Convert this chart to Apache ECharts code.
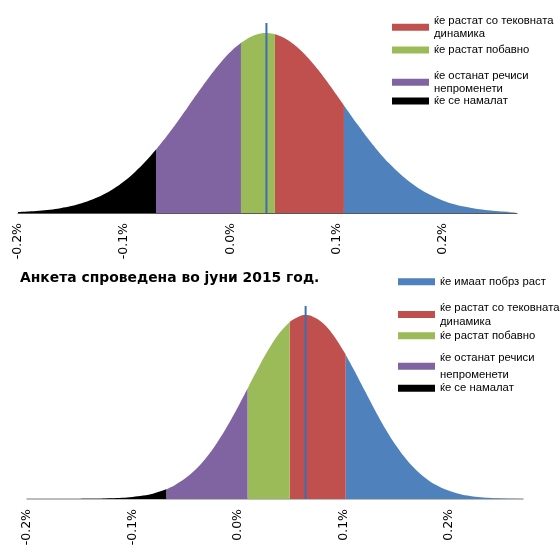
<!DOCTYPE html>
<html>
<head>
<meta charset="utf-8">
<script src="https://cdn.jsdelivr.net/npm/echarts@6/dist/echarts.min.js"></script>
<style>
  html, body { margin: 0; padding: 0; background: #ffffff; }
  #chart { width: 560px; height: 554px; }
</style>
</head>
<body>
<div id="chart"></div>
<script>
// Expectation groups (legend order) and their colours
const groupNames = [
  'ќе имаат побрз раст',
  'ќе растат со тековната\nдинамика',
  'ќе растат побавно',
  'ќе останат речиси\nнепроменети',
  'ќе се намалат'
];
const groupColors = ['#4f81bd', '#c0504d', '#9bbb59', '#8064a2', '#000000'];

// Axis ticks (growth rate, %)
const tickValues = [-0.2, -0.1, 0.0, 0.1, 0.2];
const tickLabels = ['-0.2%', '-0.1%', '0.0%', '0.1%', '0.2%'];

// Upper panel: distribution of expected growth
const xTop = [-0.20, -0.19, -0.18, -0.17, -0.16, -0.15, -0.14, -0.13, -0.12, -0.11,
  -0.10, -0.09, -0.08, -0.07, -0.06, -0.05, -0.04, -0.03, -0.02, -0.01,
  0.00, 0.01, 0.02, 0.03, 0.034, 0.04, 0.042, 0.05, 0.06, 0.07, 0.08, 0.09, 0.10,
  0.107, 0.11, 0.12, 0.13, 0.14, 0.15, 0.16, 0.17, 0.18, 0.19, 0.20,
  0.21, 0.22, 0.23, 0.24, 0.25, 0.26, 0.27];
const yTop = [0.028, 0.044, 0.067, 0.100, 0.147, 0.212, 0.299, 0.414, 0.562, 0.750,
  0.980, 1.257, 1.582, 1.952, 2.363, 2.805, 3.267, 3.732, 4.182, 4.597,
  4.956, 5.240, 5.436, 5.532, 5.540, 5.521, 5.506, 5.405, 5.190, 4.889, 4.517, 4.094, 3.640,
  3.313, 3.174, 2.715, 2.277, 1.874, 1.513, 1.198, 0.931, 0.709, 0.530, 0.388,
  0.279, 0.197, 0.136, 0.092, 0.062, 0.040, 0.026];
const cutsTop = [-0.07, 0.01, 0.042, 0.107];
const meanTop = 0.034;

// Lower panel: survey conducted in June 2015
const xBottom = [-0.20, -0.19, -0.18, -0.17, -0.16, -0.15, -0.14, -0.13, -0.12, -0.11,
  -0.10, -0.09, -0.08, -0.07, -0.068, -0.06, -0.05, -0.04, -0.03, -0.02, -0.01,
  0.00, 0.009, 0.01, 0.02, 0.03, 0.04, 0.049, 0.05, 0.06, 0.064, 0.07, 0.08, 0.09, 0.10,
  0.102, 0.11, 0.12, 0.13, 0.14, 0.15, 0.16, 0.17, 0.18, 0.19, 0.20,
  0.21, 0.22, 0.23, 0.24, 0.25, 0.26, 0.27];
const yBottom = [0.000, 0.000, 0.000, 0.001, 0.002, 0.003, 0.007, 0.013, 0.025, 0.045,
  0.079, 0.135, 0.223, 0.356, 0.390, 0.550, 0.821, 1.185, 1.654, 2.232, 2.912,
  3.673, 4.399, 4.481, 5.284, 6.026, 6.644, 7.048, 7.082, 7.300, 7.320, 7.276, 7.011, 6.532, 5.885,
  5.740, 5.126, 4.317, 3.516, 2.768, 2.107, 1.551, 1.105, 0.760, 0.506, 0.326,
  0.202, 0.122, 0.071, 0.040, 0.022, 0.011, 0.006];
const cutsBottom = [-0.068, 0.009, 0.049, 0.102];
const meanBottom = 0.064;

const surveyTitle = 'Анкета спроведена во јуни 2015 год.';

// Split a curve into consecutive shaded pieces (left to right) at the cut points
function splitCurve(xs, ys, cuts) {
  const edges = [-Infinity].concat(cuts, [Infinity]);
  const eps = 1e-9;
  const pts = xs.map((x, k) => [x, ys[k]]);
  return edges.slice(0, -1).map((lo, i) => {
    const hi = edges[i + 1];
    return pts.filter(p => p[0] >= lo - eps && p[0] <= hi + eps);
  });
}

const panels = [
  { xs: xTop, ys: yTop, cuts: cutsTop, mean: meanTop,
    grid: { left: 18, top: 23, width: 499, height: 190 }, yMax: 5.85,
    axisColor: '#595959', axisWidth: 1,
    legendLeft: 393, legendCenters: [-4.8, 21.7, 50, 76.7, 101],
    legendLines: [13, 12.5, 13, 12.5, 13] },
  { xs: xBottom, ys: yBottom, cuts: cutsBottom, mean: meanBottom,
    grid: { left: 27, top: 306, width: 496, height: 193 }, yMax: 7.68,
    axisColor: '#a6a6a6', axisWidth: 1.5,
    legendLeft: 399, legendCenters: [281.7, 309, 335.7, 360.7, 388.3],
    legendLines: [13, 14, 13, 17, 13] }
];

const grids = [], xAxes = [], yAxes = [], series = [], legends = [];

panels.forEach((p, i) => {
  grids.push(Object.assign({ containLabel: false }, p.grid));
  xAxes.push({
    gridIndex: i, type: 'value', min: -0.2, max: 0.27, interval: 0.1,
    axisLine: { show: true, onZero: false, lineStyle: { color: p.axisColor, width: p.axisWidth } },
    axisTick: { show: false },
    splitLine: { show: false },
    axisLabel: {
      rotate: 90, margin: 10, showMaxLabel: false,
      fontFamily: 'DejaVu Sans', fontSize: 12.5, color: '#000000',
      formatter: v => {
        const k = tickValues.findIndex(t => Math.abs(t - v) < 1e-9);
        return k < 0 ? '' : tickLabels[k];
      }
    }
  });
  yAxes.push({ gridIndex: i, type: 'value', min: 0, max: p.yMax, show: false });

  const pieces = splitCurve(p.xs, p.ys, p.cuts);
  groupNames.forEach((name, g) => {
    series.push({
      type: 'line', name: name, xAxisIndex: i, yAxisIndex: i,
      data: pieces[groupNames.length - 1 - g],
      color: groupColors[g],
      symbol: 'none', smooth: 0.4, silent: true,
      lineStyle: { width: 0, opacity: 0 },
      areaStyle: { color: groupColors[g], opacity: 1 },
      z: 2
    });
    const lh = p.legendLines[g];
    legends.push({
      orient: 'vertical', left: p.legendLeft - 1, top: p.legendCenters[g] - lh / 2,
      padding: 0, itemWidth: 37, itemHeight: 7, icon: 'rect', selectedMode: false,
      data: [name],
      textStyle: { fontFamily: 'Liberation Sans', fontSize: 11.3, color: '#000000',
        lineHeight: lh, height: lh }
    });
  });

  // Vertical marker at the mean expectation
  series.push({
    type: 'line', xAxisIndex: i, yAxisIndex: i,
    data: [[p.mean, 0], [p.mean, p.yMax]],
    symbol: 'none', silent: true,
    lineStyle: { color: '#3d6eb4', width: 2 },
    z: 3
  });
});

const chart = echarts.init(document.getElementById('chart'), null, { renderer: 'canvas' });
chart.setOption({
  animation: false,
  backgroundColor: '#ffffff',
  title: {
    text: surveyTitle, left: 20, top: 271, padding: 0,
    textStyle: { fontFamily: 'DejaVu Sans', fontWeight: 'bold', fontSize: 13.9, color: '#000000' }
  },
  legend: legends,
  grid: grids,
  xAxis: xAxes,
  yAxis: yAxes,
  series: series
});
</script>
</body>
</html>
